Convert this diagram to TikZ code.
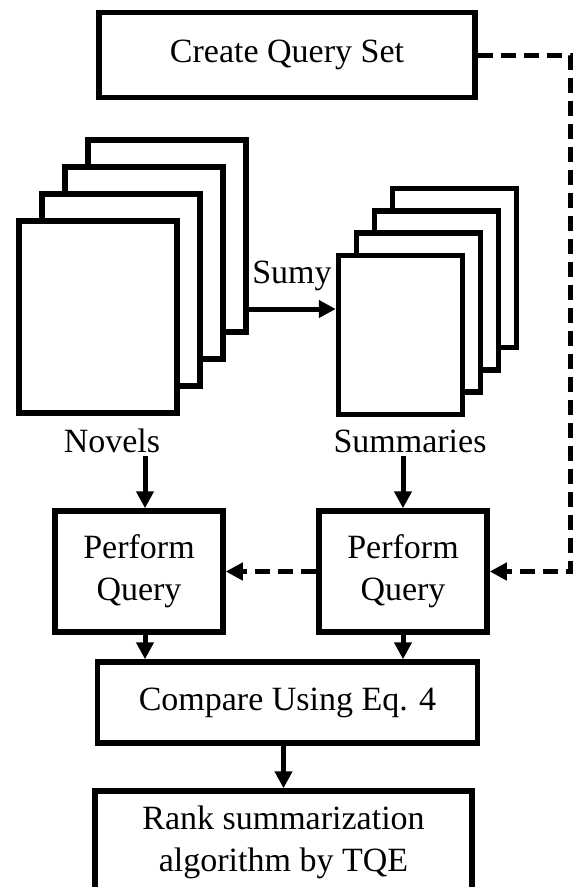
\documentclass[tikz,border=0pt]{standalone}
\usepackage{fontspec}
\setmainfont{Liberation Serif}
\usetikzlibrary{arrows.meta}

\begin{document}
\begin{tikzpicture}[x=1pt, y=-1pt,
    box/.style={draw, line width=5.5pt, fill=white, align=center, inner sep=0pt},
    sheet/.style={draw, line width=5.5pt, fill=white, inner sep=0pt},
    arr/.style={line width=5pt, -{Triangle[length=17pt, width=17pt]}},
    dsh/.style={arr, dash pattern=on 15pt off 8pt},
    font=\fontsize{34}{42}\selectfont]
    \useasboundingbox (0,0) rectangle (574,887);

    % Стопки листов (задние листы рисуются первыми)
    \foreach \i in {3,2,1,0} {
        \node[sheet, minimum width=158pt, minimum height=192pt] (nov\i) at (98+23*\i, 317-27*\i) {};
    }
    \foreach \i in {3,2,1,0} {
        \node[sheet, minimum width=124pt, minimum height=159pt] (sum\i) at (400.5+18*\i, 335-22.3*\i) {};
    }

    % Подписи
    \node[anchor=base] (novels) at (112, 452) {Novels};
    \node[anchor=base] (summ) at (410, 452) {Summaries};
    \node[anchor=base] (sumy) at (292, 283) {Sumy};

    % Блоки
    \node[box, minimum width=376pt, minimum height=85pt] (cqs) at (287, 55) {Create Query Set};
    \node[box, minimum width=168pt, minimum height=121pt] (qL) at (139, 571.5) {Perform\\Query};
    \node[box, minimum width=168pt, minimum height=121pt] (qR) at (403, 571.5) {Perform\\Query};
    \node[box, minimum width=380pt, minimum height=81pt] (cmp) at (287.5, 702.5) {Compare Using Eq. 4};
    \node[box, minimum width=377pt, minimum height=102pt] (rank) at (283.5, 842) {Rank summarization\\algorithm by TQE};

    \coordinate (sarr) at (292, 309);
    \coordinate (colL) at (145, 0);
    \coordinate (turn) at (570, 300);

    % Соединения
    \draw[arr] (sarr -| nov3.east) -- (sarr -| sum0.west);
    \draw[arr] (novels.south -| colL) -- (qL.north -| colL);
    \draw[arr] (summ.south -| qR.north) -- (qR.north);
    \draw[arr] (qL.south -| colL) -- (cmp.north -| colL);
    \draw[arr] (qR.south) -- (qR.south |- cmp.north);
    \draw[arr] (cmp.south -| rank.north) -- (rank.north);

    \draw[dsh] (cqs.east) -| (turn) |- (qR.east); % запрос к сводкам
    \draw[dsh] (qR.west) -- (qL.east);

\end{tikzpicture}
\end{document}
